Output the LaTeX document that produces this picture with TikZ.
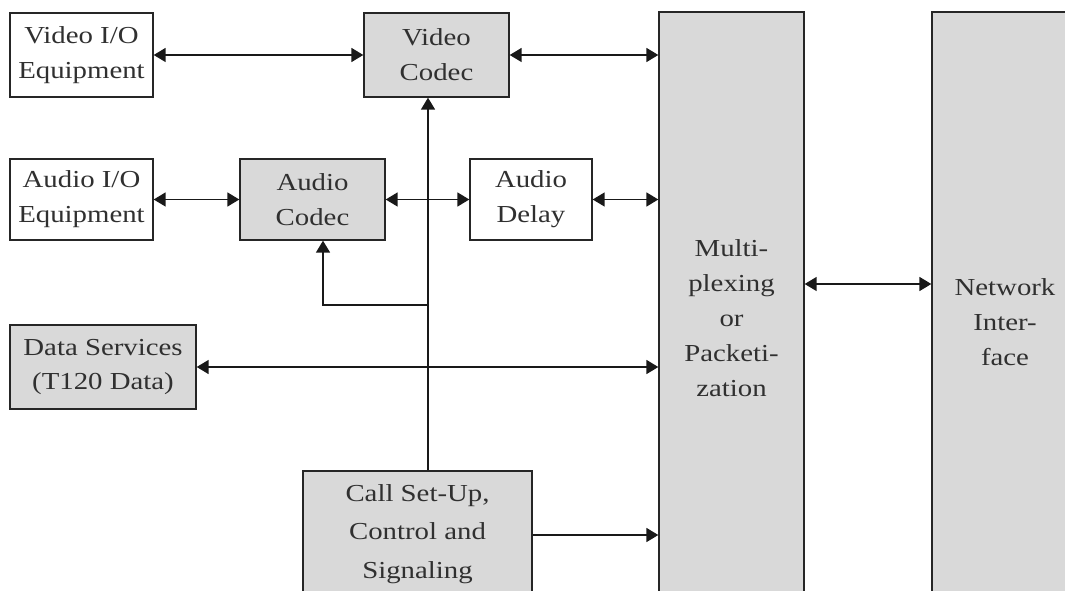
\documentclass[tikz,border=0pt]{standalone}
\usepackage{fontspec}
\setmainfont{Liberation Serif}[FakeStretch=1.18]
\usetikzlibrary{arrows.meta}
\definecolor{boxgray}{HTML}{D9D9D9}
\definecolor{txt}{HTML}{303030}
\tikzset{
  blk/.style={draw=black!85, line width=1.3bp, text=txt, align=center, inner sep=0pt,
    font=\fontsize{24.5}{35}\selectfont},
  wbox/.style={blk, fill=white},
  gbox/.style={blk, fill=boxgray},
  conn/.style={line width=1.5bp, draw=black!90},
  bi/.style={conn, {Triangle[length=12bp,width=14bp]}-{Triangle[length=12bp,width=14bp]}},
  uni/.style={conn, -{Triangle[length=12bp,width=14bp]}}
}
\begin{document}
\begin{tikzpicture}[x=1bp,y=-1bp]
\useasboundingbox (0,0) rectangle (1065,591);
\fill[white] (0,0) rectangle (1065,591);
% boxes
\node[wbox, minimum width=143bp, minimum height=84bp] (vio) at (81.5,55) {Video I/O\\Equipment};
\node[wbox, minimum width=143bp, minimum height=81bp] (aio) at (81.5,199.5) {Audio I/O\\Equipment};
\node[gbox, minimum width=145bp, minimum height=81bp] (acod) at (312.5,199.5) {Audio\\Codec};
\node[gbox, minimum width=145bp, minimum height=84bp] (vcod) at (436.5,55) {Video\\Codec};
\node[wbox, minimum width=122bp, minimum height=81bp] (adel) at (531,199.5) {Audio\\Delay};
\node[gbox, minimum width=186bp, minimum height=84bp] (data) at (103,367) {Data Services\\(T120 Data)};
\node[gbox, minimum width=229bp, minimum height=126bp, font=\fontsize{24.5}{38.5}\selectfont] (call) at (417.5,534) {Call Set-Up,\\Control and\\Signaling};
\node[gbox, minimum width=145bp, minimum height=612bp] (mux) at (731.5,318) {Multi-\\plexing\\or\\Packeti-\\zation};
\node[gbox, minimum width=146bp, minimum height=620bp] (net) at (1005,322) {Network\\Inter-\\face};
% helper coordinates
\coordinate (br) at (428,305);
\coordinate (ab) at (323,305);
\coordinate (mn) at (0,284);
\coordinate (cs) at (0,535);
% connectors
\draw[bi] (vio.east) -- (vcod.west);
\draw[bi] (vcod.east) -- (vcod.east -| mux.west);
\draw[bi] (aio.east) -- (acod.west);
\draw[bi] (acod.east) -- (adel.west);
\draw[bi] (adel.east) -- (adel.east -| mux.west);
\draw[bi] (data.east) -- (data.east -| mux.west);
\draw[uni] (call.east |- cs) -- (mux.west |- cs);
\draw[bi] (mux.east |- mn) -- (net.west |- mn);
\draw[uni] (call.north -| br) -- (vcod.south -| br);
\draw[uni] (br) -- (ab) -- (acod.south -| ab);
\end{tikzpicture}
\end{document}
